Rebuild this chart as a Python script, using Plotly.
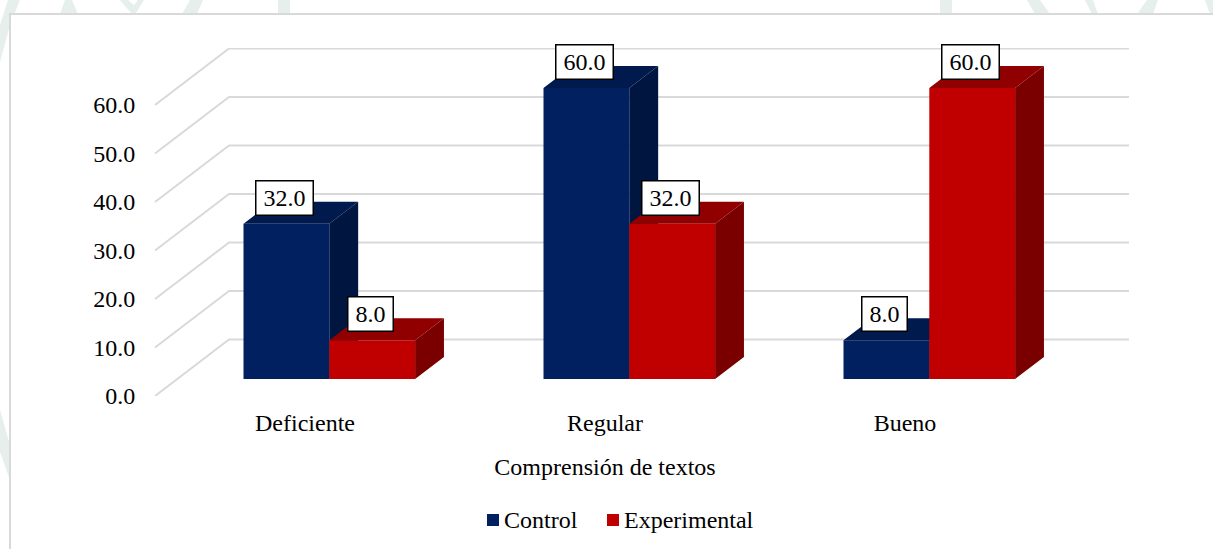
import plotly.graph_objects as go

# Survey results by reading-comprehension level
categories = ["Deficiente", "Regular", "Bueno"]
control = [32.0, 60.0, 8.0]
experimental = [8.0, 32.0, 60.0]
y_ticks = [0, 10, 20, 30, 40, 50, 60]
series_names = ["Control", "Experimental"]

BLUE, BLUE_TOP, BLUE_SIDE = "#002060", "#001A4D", "#001540"
RED, RED_TOP, RED_SIDE = "#C00000", "#900000", "#7A0000"
GRID = "#D9D9D9"
WASH = "#E7EFEC"
FONT = "Liberation Serif"
TEXT = dict(family=FONT, size=24, color="#000000")

WIDTH, HEIGHT = 1213, 549
CAT_PX, UNIT_PX = 300, 4.85  # pixels per category and per value unit
ORIGIN_X, ORIGIN_Y = 155, 396  # front corner of the floor, in page pixels
LEFT, RIGHT, TOP, BOTTOM = 80, 1130, 48, ORIGIN_Y  # plot area in page pixels

# Oblique projection: how far the back wall is shifted, in axis units
DEPTH_X = 74 / CAT_PX
DEPTH_Y = 56.5 / UNIT_PX
NEAR, FAR = 0.30, 0.69  # bar depth span as a fraction of the floor depth
BAR_W = 0.286
GROUP_CENTRE = 0.507


def px(x):
    return (x - LEFT) / (RIGHT - LEFT)


def py(y):
    return (BOTTOM - y) / (BOTTOM - TOP)


def polygon_path(points):
    return "M" + "L".join(f"{px(x):.5f},{py(y):.5f}" for x, y in points) + "Z"


def bar_left(i, series_index):
    return i + GROUP_CENTRE - BAR_W + series_index * BAR_W + DEPTH_X * NEAR


def project(x, v, depth):
    return x + DEPTH_X * depth, v + DEPTH_Y * depth


def faces(values, series_index):
    side_x, side_y, top_x, top_y = [], [], [], []
    base = DEPTH_Y * NEAR
    span = FAR - NEAR
    for i, v in enumerate(values):
        x0 = bar_left(i, series_index)
        x1 = x0 + BAR_W
        corners = [
            (x1, base),
            (x1, base + v),
            project(x1, base + v, span),
            project(x1, base, span),
            (x1, base),
        ]
        side_x += [c[0] for c in corners] + [None]
        side_y += [c[1] for c in corners] + [None]
        corners = [
            (x0, base + v),
            (x1, base + v),
            project(x1, base + v, span),
            project(x0, base + v, span),
            (x0, base + v),
        ]
        top_x += [c[0] for c in corners] + [None]
        top_y += [c[1] for c in corners] + [None]
    return side_x, side_y, top_x, top_y


x_range = [(LEFT - ORIGIN_X) / CAT_PX, (RIGHT - ORIGIN_X) / CAT_PX]
y_range = [0, (ORIGIN_Y - TOP) / UNIT_PX]

fig = go.Figure()

# Gridlines running along the floor side and then the back wall
grid_x, grid_y = [], []
for tick in y_ticks:
    grid_x += [0, DEPTH_X, len(categories) + DEPTH_X, None]
    grid_y += [tick, tick + DEPTH_Y, tick + DEPTH_Y, None]
fig.add_trace(go.Scatter(x=grid_x, y=grid_y, mode="lines",
                         line=dict(color=GRID, width=2),
                         showlegend=False, hoverinfo="skip"))

# Side and top faces; the front faces sit on an overlaying subplot above them
for index, (values, side_c, top_c) in enumerate(
    [(control, BLUE_SIDE, BLUE_TOP), (experimental, RED_SIDE, RED_TOP)]
):
    sx, sy, tx, ty = faces(values, index)
    for fx, fy, colour in [(sx, sy, side_c), (tx, ty, top_c)]:
        fig.add_trace(go.Scatter(x=fx, y=fy, mode="lines", fill="toself",
                                 fillcolor=colour, line=dict(width=0),
                                 showlegend=False, hoverinfo="skip"))

for index, (name, values, colour) in enumerate(
    zip(series_names, [control, experimental], [BLUE, RED])
):
    fig.add_trace(go.Bar(
        name=name,
        x=[bar_left(i, index) + BAR_W / 2 for i in range(len(categories))],
        y=values,
        base=DEPTH_Y * NEAR,
        width=BAR_W,
        marker=dict(color=colour, line=dict(width=0)),
        showlegend=False,
        xaxis="x2",
        yaxis="y2",
    ))

# Boxed value labels above each bar
annotations = []
for index, values in enumerate([control, experimental]):
    for i, v in enumerate(values):
        label = f"{v:.1f}"
        annotations.append(dict(
            x=bar_left(i, index) + BAR_W / 2,
            y=DEPTH_Y * NEAR + v,
            xref="x2", yref="y2",
            text=label,
            showarrow=False,
            xshift=-1.5, yshift=26,
            width=12 * len(label) + 6, height=31,
            bgcolor="#FFFFFF",
            bordercolor="#000000", borderwidth=1.5, borderpad=1,
            font=TEXT,
        ))

# Chart frame and the pale background motif showing outside it
wash_polygons = [
    [(8, 0), (20, 0), (10, 25), (0, 62), (0, 25)],
    [(0, 410), (10, 445), (10, 480), (0, 452)],
    [(65, 0), (72, 0), (78, 14), (60, 14)],
    [(120, 0), (128, 0), (134, 5), (138, 0), (144, 0), (136, 13), (131, 13)],
    [(190, 0), (203, 0), (197, 14), (182, 14)],
    [(278, 0), (290, 0), (290, 14), (278, 14)],
    [(940, 0), (952, 0), (952, 14), (940, 14)],
    [(1027, 0), (1040, 0), (1050, 14), (1035, 14)],
    [(1085, 0), (1093, 0), (1098, 14), (1092, 14)],
    [(1147, 0), (1158, 0), (1153, 14), (1137, 14)],
    [(1205, 0), (1213, 0), (1213, 14), (1210, 14)],
]
shapes = [
    dict(type="path", path=polygon_path(poly), xref="paper", yref="paper",
         fillcolor=WASH, line=dict(width=0), layer="below")
    for poly in wash_polygons
]
shapes.append(dict(type="rect", xref="paper", yref="paper",
                   x0=px(10), y0=py(14), x1=px(WIDTH + 10), y1=py(HEIGHT + 10),
                   fillcolor="#FFFFFF", line=dict(color=GRID, width=2),
                   layer="below"))

# Compact legend: square swatch with its series name right beside it
for name, colour, swatch_x in zip(series_names, [BLUE, RED], [487, 607]):
    shapes.append(dict(type="rect", xref="paper", yref="paper",
                       x0=px(swatch_x), x1=px(swatch_x + 12),
                       y0=py(526), y1=py(514),
                       fillcolor=colour, line=dict(width=0)))
    annotations.append(dict(x=px(swatch_x + 16), y=py(519.5), xref="paper", yref="paper",
                            text=name, showarrow=False, xanchor="left", yanchor="middle",
                            borderpad=0, font=TEXT))

fig.update_layout(
    width=WIDTH,
    height=HEIGHT,
    margin=dict(l=LEFT, r=WIDTH - RIGHT, t=TOP, b=HEIGHT - BOTTOM, autoexpand=False),
    paper_bgcolor="#FFFFFF",
    plot_bgcolor="rgba(0,0,0,0)",
    barmode="overlay",
    showlegend=False,
    font=TEXT,
    xaxis=dict(
        range=x_range,
        tickmode="array",
        tickvals=[i + 0.5 for i in range(len(categories))],
        ticktext=categories,
        ticks="outside", ticklen=5, tickcolor="rgba(0,0,0,0)",
        showgrid=False, showline=False, zeroline=False,
        tickfont=TEXT,
        title=dict(text="Comprensión de textos", standoff=23, font=TEXT),
    ),
    yaxis=dict(
        range=y_range,
        anchor="free",
        position=px(ORIGIN_X),
        tickmode="array",
        tickvals=y_ticks,
        tickformat=".1f",
        ticks="outside", ticklen=15, tickcolor="rgba(0,0,0,0)",
        showgrid=False, showline=False, zeroline=False,
        tickfont=TEXT,
    ),
    xaxis2=dict(range=x_range, overlaying="x", visible=False, anchor="y2"),
    yaxis2=dict(range=y_range, overlaying="y", visible=False, anchor="x2"),
    annotations=annotations,
    shapes=shapes,
)

fig.write_html("out.html")
